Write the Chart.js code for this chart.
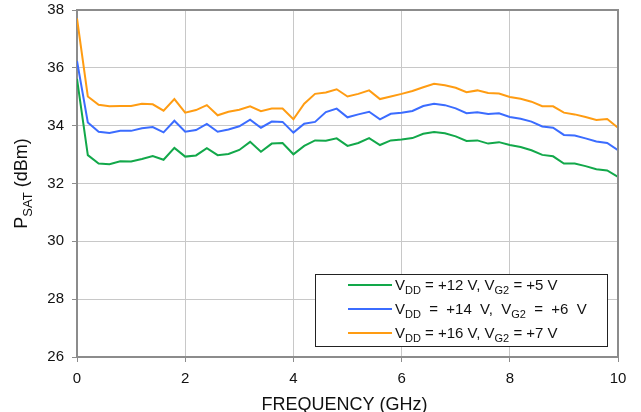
<!DOCTYPE html>
<html>
<head>
<meta charset="utf-8">
<script src="https://cdn.jsdelivr.net/npm/chart.js@4/dist/chart.umd.min.js"></script>
<style>
  body { margin: 0; background: #fff; }
  #wrap { width: 641px; height: 412px; }
</style>
</head>
<body>
<div id="wrap"><canvas id="psatChart" width="641" height="412"></canvas></div>
<script>
const freqGHz = [0, 0.2, 0.4, 0.6, 0.8, 1.0, 1.2, 1.4, 1.6, 1.8, 2.0, 2.2, 2.4, 2.6, 2.8, 3.0, 3.2, 3.4, 3.6, 3.8,
  4.0, 4.2, 4.4, 4.6, 4.8, 5.0, 5.2, 5.4, 5.6, 5.8, 6.0, 6.2, 6.4, 6.6, 6.8, 7.0, 7.2, 7.4, 7.6, 7.8,
  8.0, 8.2, 8.4, 8.6, 8.8, 9.0, 9.2, 9.4, 9.6, 9.8, 10.0];

const psat12V = [35.62, 32.98, 32.69, 32.67, 32.77, 32.76, 32.85, 32.95, 32.82, 33.23, 32.93, 32.97, 33.22, 32.98, 33.02, 33.16, 33.44, 33.10, 33.38, 33.40,
  33.01, 33.30, 33.49, 33.48, 33.56, 33.30, 33.40, 33.57, 33.33, 33.49, 33.52, 33.57, 33.72, 33.78, 33.74, 33.63, 33.47, 33.49, 33.38, 33.43,
  33.33, 33.26, 33.15, 32.99, 32.94, 32.69, 32.69, 32.60, 32.49, 32.45, 32.23];

const psat14V = [36.24, 34.11, 33.79, 33.75, 33.82, 33.82, 33.91, 33.95, 33.77, 34.17, 33.79, 33.85, 34.06, 33.79, 33.87, 33.98, 34.21, 33.93, 34.14, 34.13,
  33.76, 34.07, 34.13, 34.47, 34.59, 34.29, 34.39, 34.48, 34.22, 34.41, 34.45, 34.51, 34.68, 34.76, 34.71, 34.60, 34.43, 34.46, 34.40, 34.43,
  34.30, 34.24, 34.14, 33.97, 33.93, 33.68, 33.66, 33.56, 33.45, 33.40, 33.15];

const psat16V = [37.71, 35.01, 34.72, 34.67, 34.68, 34.68, 34.76, 34.74, 34.52, 34.92, 34.45, 34.54, 34.71, 34.36, 34.48, 34.55, 34.67, 34.50, 34.59, 34.59,
  34.22, 34.76, 35.10, 35.15, 35.26, 35.01, 35.10, 35.22, 34.92, 35.01, 35.10, 35.20, 35.33, 35.45, 35.40, 35.31, 35.16, 35.22, 35.13, 35.11,
  34.99, 34.93, 34.83, 34.67, 34.67, 34.45, 34.39, 34.30, 34.20, 34.23, 33.93];

const xTicks = [0, 2, 4, 6, 8, 10];
const yTicks = [26, 28, 30, 32, 34, 36, 38];

const legendRows = [
  { color: '#12a84a', parts: [['V', 0], ['DD', 1], [' = +12 V, V', 0], ['G2', 1], [' = +5 V', 0]] },
  { color: '#3b6cff', parts: [['V', 0], ['DD', 1], ['  =  +14  V,  V', 0], ['G2', 1], ['  =  +6  V', 0]] },
  { color: '#ff9c12', parts: [['V', 0], ['DD', 1], [' = +16 V, V', 0], ['G2', 1], [' = +7 V', 0]] }
];

const FONT = '"Liberation Sans", Arial, sans-serif';
const FRAME = '#8c8c8c';

// draw text runs with subscripts, starting at x
function drawRuns(ctx, runs, x, y, size) {
  runs.forEach(([txt, sub]) => {
    ctx.font = (sub ? Math.round(size * 0.72) : size) + 'px ' + FONT;
    ctx.fillText(txt, x, sub ? y + size * 0.25 : y);
    x += ctx.measureText(txt).width;
  });
  return x;
}

const decorations = {
  id: 'decorations',
  afterDraw(chart) {
    const ctx = chart.ctx;
    const a = chart.chartArea;
    ctx.save();
    // frame: top and right
    ctx.strokeStyle = FRAME;
    ctx.lineWidth = 2;
    ctx.beginPath();
    ctx.moveTo(a.left - 1, a.top);
    ctx.lineTo(a.right, a.top);
    ctx.lineTo(a.right, a.bottom + 1);
    ctx.stroke();

    // legend box
    const bx = 315, by = 274, bw = 292, bh = 72;
    ctx.fillStyle = '#fff';
    ctx.fillRect(bx, by, bw, bh);
    ctx.strokeStyle = '#222';
    ctx.lineWidth = 1;
    ctx.strokeRect(bx + 0.5, by + 0.5, bw, bh);
    ctx.textBaseline = 'alphabetic';
    legendRows.forEach((row, i) => {
      const cy = 285 + i * 24;
      ctx.strokeStyle = row.color;
      ctx.lineWidth = 2;
      ctx.beginPath();
      ctx.moveTo(348, cy);
      ctx.lineTo(392, cy);
      ctx.stroke();
      ctx.fillStyle = '#111';
      drawRuns(ctx, row.parts, 395, cy + 5, 15);
    });

    // x title
    ctx.fillStyle = '#111';
    ctx.font = '18px ' + FONT;
    ctx.textAlign = 'center';
    ctx.fillText('FREQUENCY (GHz)', (a.left + a.right) / 2 - 3, 410);

    // y title (rotated, with subscript)
    ctx.translate(27, (a.top + a.bottom) / 2);
    ctx.rotate(-Math.PI / 2);
    ctx.textAlign = 'left';
    const runs = [['P', 0], ['SAT', 1], [' (dBm)', 0]];
    let w = 0;
    runs.forEach(([t, s]) => { ctx.font = (s ? 13 : 18) + 'px ' + FONT; w += ctx.measureText(t).width; });
    drawRuns(ctx, runs, -w / 2, 0, 18);
    ctx.restore();
  }
};

const mkSet = (label, data, color) => ({
  label,
  data: freqGHz.map((f, i) => ({ x: f, y: data[i] })),
  borderColor: color,
  backgroundColor: color,
  borderWidth: 2,
  pointRadius: 0,
  tension: 0,
  fill: false
});

new Chart(document.getElementById('psatChart').getContext('2d'), {
  type: 'line',
  data: {
    datasets: [
      mkSet('+12 V', psat12V, legendRows[0].color),
      mkSet('+14 V', psat14V, legendRows[1].color),
      mkSet('+16 V', psat16V, legendRows[2].color)
    ]
  },
  options: {
    responsive: false,
    animation: false,
    layout: { padding: { top: 10, right: 23, left: 0, bottom: 0 } },
    plugins: { legend: { display: false }, tooltip: { enabled: false } },
    scales: {
      x: {
        type: 'linear',
        min: 0, max: 10,
        afterBuildTicks: s => { s.ticks = xTicks.map(v => ({ value: v })); },
        afterFit: s => { s.height = 55; s.paddingLeft = 0; s.paddingRight = 0; },
        ticks: { color: '#111', font: { family: FONT, size: 15 }, padding: 8, maxRotation: 0 },
        grid: { color: '#c8c8c8', lineWidth: 1, tickLength: 5, tickColor: FRAME },
        border: { color: FRAME, width: 2 }
      },
      y: {
        min: 26, max: 38,
        afterBuildTicks: s => { s.ticks = yTicks.map(v => ({ value: v })); },
        afterFit: s => { s.width = 77; s.paddingTop = 0; s.paddingBottom = 0; },
        ticks: { color: '#111', font: { family: FONT, size: 15 }, padding: 8 },
        grid: { color: '#c8c8c8', lineWidth: 1, tickLength: 5, tickColor: FRAME },
        border: { color: FRAME, width: 2 }
      }
    }
  },
  plugins: [decorations]
});
</script>
</body>
</html>
